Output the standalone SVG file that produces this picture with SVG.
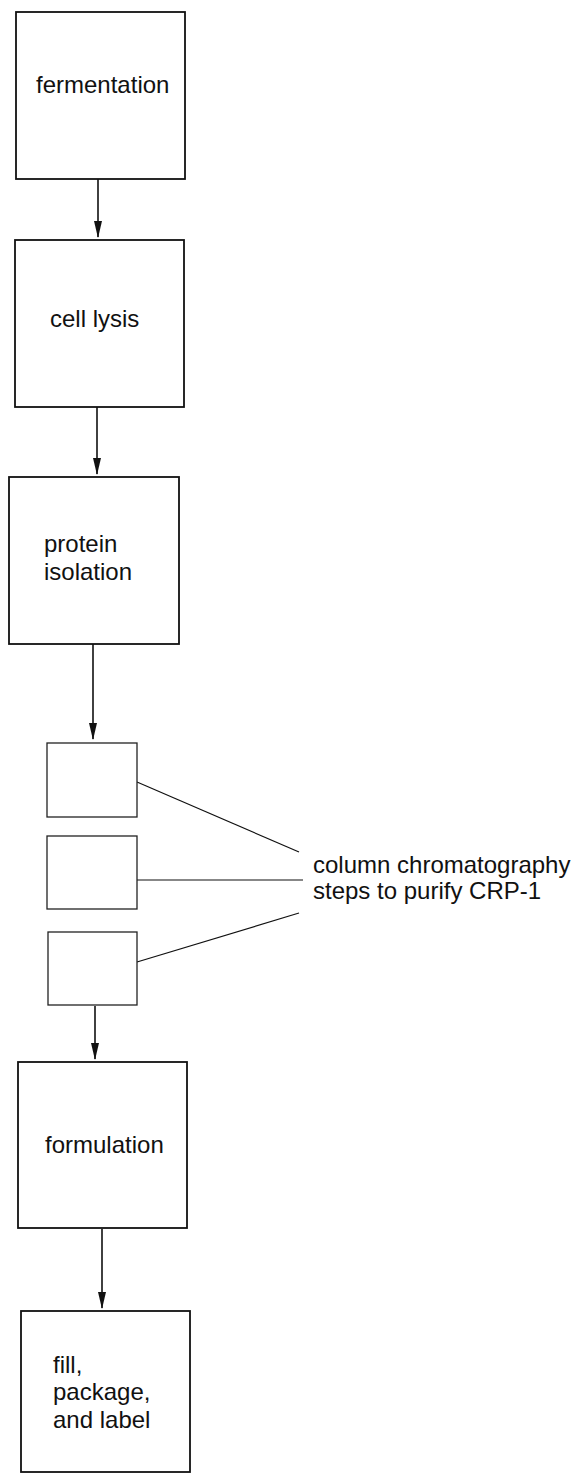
<svg xmlns="http://www.w3.org/2000/svg" width="576" height="1474" viewBox="0 0 576 1474">
  <style>
    .box { fill: #ffffff; stroke: #111111; stroke-width: 1.8; }
    .step { fill: #ffffff; stroke: #222222; stroke-width: 1.3; }
    .label { font-family: "Liberation Sans", Arial, sans-serif; font-size: 24px; fill: #111111; }
    .flow { stroke: #111111; stroke-width: 1.6; fill: none; marker-end: url(#head); }
    .lead { stroke: #111111; stroke-width: 1.2; fill: none; }
  </style>
  <defs>
    <!-- narrow filled arrowhead, tip at the path end -->
    <marker id="head" viewBox="0 0 17 8" refX="16" refY="4" markerWidth="17" markerHeight="8" markerUnits="userSpaceOnUse" orient="auto">
      <path d="M0,0 L17,4 L0,8 Z" fill="#111111"/>
    </marker>
  </defs>
  <rect width="576" height="1474" fill="#ffffff"/>

  <g id="connectors">
    <path class="flow" d="M98,179 V237"/>
    <path class="flow" d="M97,407 V474"/>
    <path class="flow" d="M93,644 V739"/>
    <path class="flow" d="M95,1006 V1059"/>
    <path class="flow" d="M102,1229 V1308"/>
    <line class="lead" x1="137" y1="782" x2="299" y2="852"/>
    <line class="lead" x1="137" y1="880" x2="303" y2="880"/>
    <line class="lead" x1="137" y1="962" x2="299" y2="913"/>
  </g>

  <g id="fermentation">
    <rect class="box" x="16" y="12" width="169" height="167"/>
    <text class="label" x="36" y="93">fermentation</text>
  </g>
  <g id="cell-lysis">
    <rect class="box" x="15" y="240" width="169" height="167"/>
    <text class="label" x="50" y="327">cell lysis</text>
  </g>
  <g id="protein-isolation">
    <rect class="box" x="9" y="477" width="170" height="167"/>
    <text class="label" x="44" y="552">protein</text>
    <text class="label" x="44" y="580">isolation</text>
  </g>
  <g id="column-1">
    <rect class="step" x="47" y="743" width="90" height="74"/>
  </g>
  <g id="column-2">
    <rect class="step" x="47" y="836" width="90" height="73"/>
  </g>
  <g id="column-3">
    <rect class="step" x="48" y="932" width="89" height="73"/>
  </g>
  <g id="chromatography-note">
    <text class="label" x="313" y="873">column chromatography</text>
    <text class="label" x="313" y="899">steps to purify CRP-1</text>
  </g>
  <g id="formulation">
    <rect class="box" x="18" y="1062" width="169" height="166"/>
    <text class="label" x="45" y="1153">formulation</text>
  </g>
  <g id="fill-package-label">
    <rect class="box" x="21" y="1311" width="169" height="161"/>
    <text class="label" x="53" y="1373">fill,</text>
    <text class="label" x="53" y="1400">package,</text>
    <text class="label" x="53" y="1428">and label</text>
  </g>
</svg>
